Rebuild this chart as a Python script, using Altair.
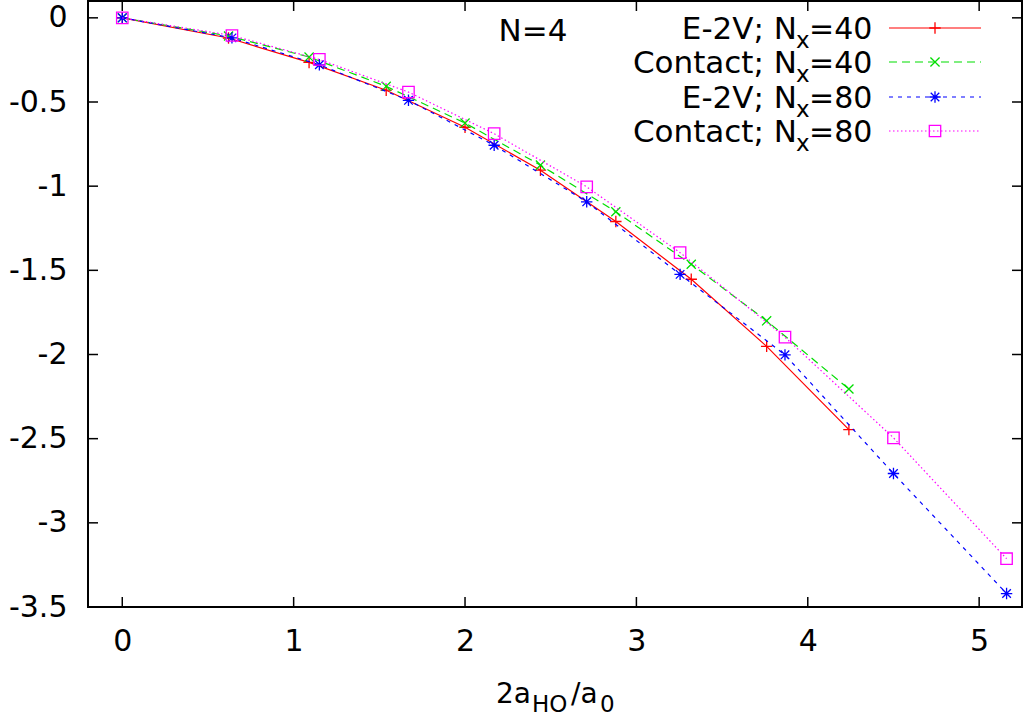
import altair as alt
import pandas as pd

# ---- data ----
x_n40 = [0.0, 0.62, 1.09, 1.54, 2.00, 2.44, 2.88, 3.32, 3.76, 4.24]
e2v_n40 = [0.0, -0.120, -0.265, -0.430, -0.650, -0.905, -1.210, -1.553, -1.952, -2.446]
contact_n40 = [0.0, -0.108, -0.233, -0.407, -0.625, -0.875, -1.152, -1.464, -1.800, -2.205]

x_n80 = [0.0, 0.64, 1.15, 1.67, 2.17, 2.71, 3.255, 3.867, 4.50, 5.16]
e2v_n80 = [0.0, -0.119, -0.279, -0.490, -0.757, -1.093, -1.524, -2.002, -2.707, -3.420]
contact_n80 = [0.0, -0.105, -0.247, -0.441, -0.688, -1.004, -1.395, -1.897, -2.495, -3.213]

x_ticks = [0, 1, 2, 3, 4, 5]
y_ticks = [0, -0.5, -1, -1.5, -2, -2.5, -3, -3.5]

legend_main = ["E-2V; N", "Contact; N", "E-2V; N", "Contact; N"]
legend_sub = ["x", "x", "x", "x"]
legend_tail = ["=40", "=40", "=80", "=80"]
annotation = ["N=4"]
xtitle_parts = ["2a", "HO", "/a", "0"]

colors = ["#ff0000", "#00dd00", "#0000ff", "#ff00ff"]
dashes = [None, [8, 5], [4, 5], [1.5, 2.5]]
PLUS = "M-1,0L1,0M0,-1L0,1"
CROSS = "M-0.8,-0.8L0.8,0.8M-0.8,0.8L0.8,-0.8"
STAR = "M-1,0L1,0M0,-1L0,1M-0.75,-0.75L0.75,0.75M-0.75,0.75L0.75,-0.75"
shapes = [PLUS, CROSS, STAR, "square"]

FONT = "DejaVu Sans"
FS_TICK = 30
FS = 31
FS_TAIL = 30
FS_SUB = 23
FS_T = 28
FS_TSUB = 23
W, H = 934, 606
PADL, PADT = 88, 1

xscale = alt.Scale(domain=[-0.2, 5.25], nice=False, zero=False)
yscale = alt.Scale(domain=[-3.5, 0.1], nice=False, zero=False)
xaxis = alt.Axis(values=x_ticks, ticks=False, domain=False, grid=False, title=None,
                 labelFont=FONT, labelFontSize=FS_TICK, labelColor="black", labelPadding=19,
                 labelOverlap=False, labelFlush=False, labelExpr="toString(datum.value)")
yaxis = alt.Axis(values=y_ticks, ticks=False, domain=False, grid=False, title=None,
                 labelFont=FONT, labelFontSize=FS_TICK, labelColor="black", labelPadding=21,
                 labelOverlap=False, labelFlush=False, labelExpr="toString(datum.value)")


def X(field):
    return alt.X(field, type="quantitative", scale=xscale, axis=xaxis)


def Y(field):
    return alt.Y(field, type="quantitative", scale=yscale, axis=yaxis)


layers = []

# inward ticks on all four sides
dfx = pd.DataFrame({"t": x_ticks})
dfy = pd.DataFrame({"t": y_ticks})
tick_len = 10
layers.append(alt.Chart(dfx).mark_rule(color="black", strokeWidth=1.5).encode(
    x=X("t"), y=alt.value(H), y2=alt.value(H - tick_len)))
layers.append(alt.Chart(dfx).mark_rule(color="black", strokeWidth=1.5).encode(
    x=X("t"), y=alt.value(0), y2=alt.value(tick_len)))
layers.append(alt.Chart(dfy).mark_rule(color="black", strokeWidth=1.5).encode(
    y=Y("t"), x=alt.value(0), x2=alt.value(tick_len)))
layers.append(alt.Chart(dfy).mark_rule(color="black", strokeWidth=1.5).encode(
    y=Y("t"), x=alt.value(W), x2=alt.value(W - tick_len)))

series = [(x_n40, e2v_n40), (x_n40, contact_n40), (x_n80, e2v_n80), (x_n80, contact_n80)]
for i, (xs, ys) in enumerate(series):
    df = pd.DataFrame({"x": xs, "y": ys, "o": list(range(len(xs)))})
    base = alt.Chart(df).encode(x=X("x"), y=Y("y"))
    line_kw = dict(color=colors[i], strokeWidth=1.2, clip=True)
    if dashes[i]:
        line_kw["strokeDash"] = dashes[i]
    layers.append(base.mark_line(**line_kw).encode(order="o:Q"))
    layers.append(base.mark_point(shape=shapes[i], color=colors[i], size=130,
                                  strokeWidth=1.3, filled=False, opacity=1))

# legend (manual, to allow the subscript)
row_y = [28, 62, 97, 131]
one = pd.DataFrame({"d": [0]})
for i in range(4):
    ly = row_y[i] - PADT
    base_line = ly + 11
    layers.append(alt.Chart(pd.DataFrame({"t": [legend_main[i]]})).mark_text(
        font=FONT, fontSize=FS, align="right", baseline="alphabetic", color="black").encode(
        text="t:N", x=alt.value(797 - PADL), y=alt.value(base_line)))
    layers.append(alt.Chart(pd.DataFrame({"t": [legend_sub[i]]})).mark_text(
        font=FONT, fontSize=FS_SUB, align="left", baseline="alphabetic", color="black").encode(
        text="t:N", x=alt.value(796 - PADL), y=alt.value(base_line + 9)))
    layers.append(alt.Chart(pd.DataFrame({"t": [legend_tail[i]]})).mark_text(
        font=FONT, fontSize=FS_TAIL, align="left", baseline="alphabetic", color="black").encode(
        text="t:N", x=alt.value(809 - PADL), y=alt.value(base_line)))
    rule_kw = dict(color=colors[i], strokeWidth=1.2)
    if dashes[i]:
        rule_kw["strokeDash"] = dashes[i]
    layers.append(alt.Chart(one).mark_rule(**rule_kw).encode(
        x=alt.value(889 - PADL), x2=alt.value(981 - PADL), y=alt.value(ly)))
    layers.append(alt.Chart(one).mark_point(shape=shapes[i], color=colors[i], size=130,
                                            strokeWidth=1.3, filled=False, opacity=1).encode(
        x=alt.value(935 - PADL), y=alt.value(ly)))

# N=4 annotation
layers.append(alt.Chart(pd.DataFrame({"t": annotation})).mark_text(
    font=FONT, fontSize=FS, align="center", baseline="alphabetic", color="black").encode(
    text="t:N", x=alt.value(533 - PADL), y=alt.value(41 - PADT)))

# x axis title 2a_HO/a_0
title_specs = [
    (xtitle_parts[0], 531, 703, FS_T, "right"),
    (xtitle_parts[1], 532, 712, FS_TSUB, "left"),
    (xtitle_parts[2], 571, 703, FS_T, "left"),
    (xtitle_parts[3], 600, 712, FS_TSUB, "left"),
]
for txt, px, py, fs, al in title_specs:
    layers.append(alt.Chart(pd.DataFrame({"t": [txt]})).mark_text(
        font=FONT, fontSize=fs, align=al, baseline="alphabetic", color="black").encode(
        text="t:N", x=alt.value(px - PADL), y=alt.value(py - PADT)))

chart = alt.layer(*layers).properties(
    width=W, height=H,
    padding={"left": PADL, "top": PADT, "right": 2, "bottom": 112},
    autosize=alt.AutoSizeParams(type="none"),
    background="white",
).configure_view(stroke="black", strokeWidth=2)

chart.save("out.html", embed_options={"renderer": "svg", "actions": False})
